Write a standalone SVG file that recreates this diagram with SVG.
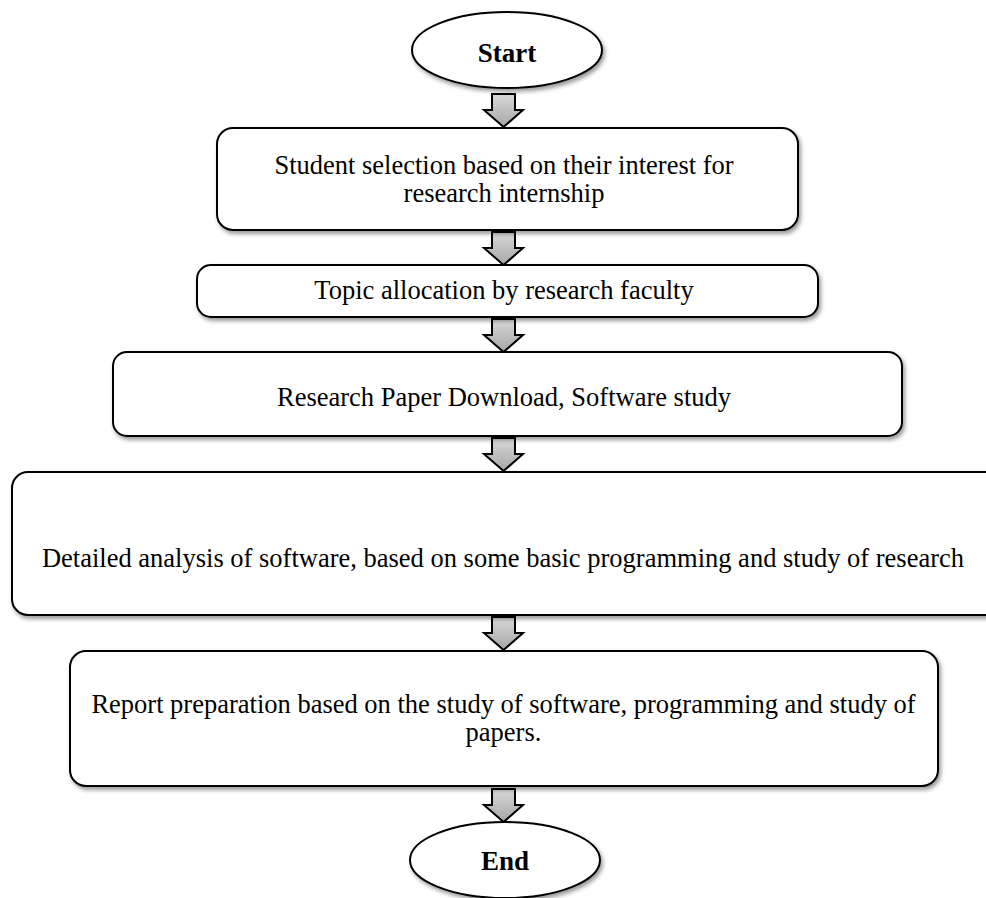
<svg xmlns="http://www.w3.org/2000/svg" width="986" height="898" viewBox="0 0 986 898">
<defs>
<filter id="sh" x="-5%" y="-10%" width="110%" height="130%">
<feGaussianBlur in="SourceAlpha" stdDeviation="2"/>
<feOffset dx="2" dy="3" result="b"/>
<feComponentTransfer><feFuncA type="linear" slope="0.4"/></feComponentTransfer>
<feMerge><feMergeNode/><feMergeNode in="SourceGraphic"/></feMerge>
</filter>
<linearGradient id="ag" x1="0" y1="0" x2="0" y2="1">
<stop offset="0" stop-color="#d9d9d9"/>
<stop offset="1" stop-color="#a6a6a6"/>
</linearGradient>
<path id="arr" d="M-11.5,0 H11.5 V16 H19.5 L0,33 L-19.5,16 H-11.5 Z"/>
</defs>
<style>
.n{fill:#fff;stroke:#000;stroke-width:2;filter:url(#sh)}
.t{font-family:"Liberation Serif","Times New Roman",serif;font-size:26.5px;fill:#000;text-anchor:middle}
.b{font-weight:bold;font-size:27px}
.a{fill:url(#ag);stroke:#000;stroke-width:2;stroke-linejoin:miter}
</style>
<g id="connectors">
<use href="#arr" class="a" x="503.5" y="94"/>
<use href="#arr" class="a" x="503.5" y="232"/>
<use href="#arr" class="a" x="503.5" y="319"/>
<use href="#arr" class="a" x="503.5" y="438"/>
<use href="#arr" class="a" x="503.5" y="617"/>
<use href="#arr" class="a" x="503.5" y="789"/>
</g>
<g id="start"><ellipse class="n" cx="507" cy="50" rx="95" ry="38"/><text class="t b" x="507" y="62">Start</text></g>
<g id="n1"><rect class="n" x="217" y="128" width="581" height="102" rx="16"/><text class="t" x="504" y="174">Student selection based on their interest for</text><text class="t" x="504" y="202">research internship</text></g>
<g id="n2"><rect class="n" x="197" y="265" width="621" height="52" rx="14"/><text class="t" x="504" y="299">Topic allocation by research faculty</text></g>
<g id="n3"><rect class="n" x="113" y="352" width="789" height="84" rx="14"/><text class="t" x="504" y="406">Research Paper Download, Software study</text></g>
<g id="n4"><rect class="n" x="12" y="472" width="990" height="143" rx="16"/><text class="t" x="503" y="567">Detailed analysis of software, based on some basic programming and study of research</text></g>
<g id="n5"><rect class="n" x="70" y="651" width="868" height="135" rx="16"/><text class="t" x="503.5" y="713">Report preparation based on the study of software, programming and study of</text><text class="t" x="503.5" y="741">papers.</text></g>
<g id="end"><ellipse class="n" cx="505" cy="860" rx="95" ry="38"/><text class="t b" x="505" y="870">End</text></g>
</svg>
